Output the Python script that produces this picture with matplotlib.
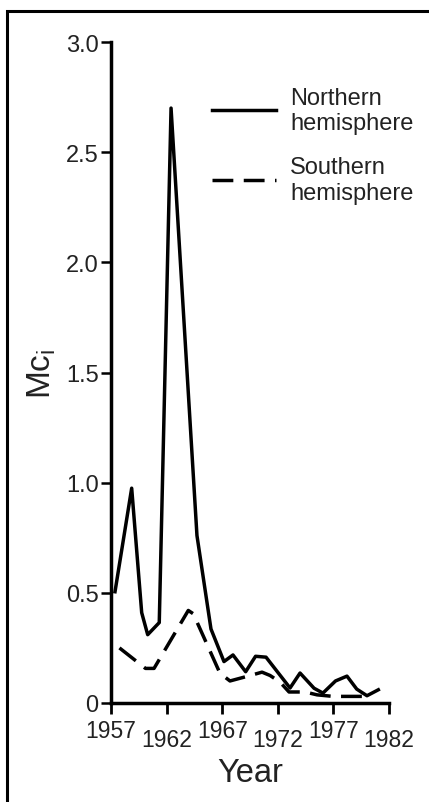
import matplotlib
matplotlib.use('Agg')
import matplotlib.pyplot as plt
from matplotlib.patches import Rectangle

plt.rcParams['font.family'] = 'Liberation Sans'
plt.rcParams['mathtext.fontset'] = 'custom'
plt.rcParams['mathtext.rm'] = 'Liberation Sans'
plt.rcParams['mathtext.it'] = 'Liberation Sans:italic'

# values (fractional years)
north_years = [1957.36, 1958.86, 1959.76, 1960.30, 1961.34, 1962.40, 1964.73,
               1965.99, 1967.16, 1967.97, 1969.11, 1970.00, 1970.94, 1973.10,
               1974.00, 1975.26, 1976.06, 1977.19, 1978.22, 1979.10, 1980.02,
               1981.04]
north_mc = [0.505, 0.975, 0.41, 0.31, 0.365, 2.70, 0.76,
            0.336, 0.188, 0.218, 0.142, 0.212, 0.208, 0.068,
            0.136, 0.067, 0.045, 0.10, 0.122, 0.063, 0.033,
            0.06]

south_years = [1957.76, 1960.10, 1960.87, 1963.95, 1964.40, 1966.80, 1967.70,
               1969.32, 1970.58, 1971.30, 1972.20, 1973.01, 1974.45, 1975.53,
               1976.97, 1980.03]
south_mc = [0.25, 0.157, 0.157, 0.42, 0.405, 0.135, 0.10,
            0.122, 0.14, 0.125, 0.095, 0.05, 0.05, 0.037,
            0.03, 0.03]

major_years = [1957, 1967, 1977]
minor_years = [1962, 1972, 1982]
y_ticks = [0, 0.5, 1.0, 1.5, 2.0, 2.5, 3.0]
y_tick_labels = ['0', '0.5', '1.0', '1.5', '2.0', '2.5', '3.0']

txt = '#222222'

fig = plt.figure(figsize=(4.29, 8.03), dpi=100)
ax = fig.add_axes([111 / 429, 1 - 704 / 803, 278 / 429, 661 / 803])

ax.plot(north_years, north_mc, color='black', lw=2.5,
        label='Northern\nhemisphere')
ax.plot(south_years, south_mc, color='black', lw=2.5, ls=(0, (6, 3)),
        label='Southern\nhemisphere')

ax.set_xlim(1957, 1982)
ax.set_ylim(0, 3)
for s in ['top', 'right']:
    ax.spines[s].set_visible(False)
for s in ['left', 'bottom']:
    ax.spines[s].set_linewidth(2.5)

ax.set_yticks(y_ticks)
ax.set_yticklabels(y_tick_labels)
ax.set_xticks(major_years)
ax.set_xticks(minor_years, minor=True)
ax.set_xticklabels([str(y) for y in major_years])
ax.set_xticklabels([str(y) for y in minor_years], minor=True)
ax.tick_params(axis='y', length=7, width=1.8, pad=2, labelsize=17, labelcolor=txt)
ax.tick_params(axis='x', which='both', length=8, width=2, labelsize=16.5,
               labelcolor=txt)
ax.tick_params(axis='x', which='major', pad=3.5)
ax.tick_params(axis='x', which='minor', pad=10)

ax.set_xlabel('Year', fontsize=23.5, color=txt)
ax.xaxis.set_label_coords(0.5, -0.082)
ax.set_ylabel(r'$\mathregular{Mc_i}$', fontsize=24, color=txt)
ax.yaxis.set_label_coords(-0.19, 0.5)

leg = ax.legend(loc='upper left', bbox_to_anchor=(212 / 429, 1 - 87.5 / 803),
                bbox_transform=fig.transFigure, frameon=False, fontsize=17,
                handlelength=2.71, handletextpad=0.6, labelspacing=0.95,
                borderpad=0, borderaxespad=0)
for t in leg.get_texts():
    t.set_linespacing(1.2)
    t.set_color(txt)

# frame around the figure (cut off at right and bottom in the original)
fig.add_artist(Rectangle((6.7 / 429, -0.5), 2, 1.5 - 12 / 803,
                         transform=fig.transFigure, fill=False, lw=2.2,
                         ec='black', clip_on=False))

fig.savefig('out.png', dpi=100)
